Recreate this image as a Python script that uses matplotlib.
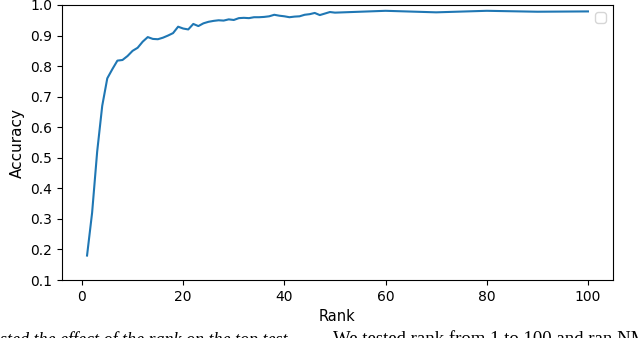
import matplotlib
matplotlib.use("Agg")
import matplotlib.pyplot as plt

ranks = list(range(1, 51)) + [60, 70, 80, 90, 100]
accuracy = [0.180, 0.320, 0.520, 0.670, 0.760, 0.790, 0.818, 0.820, 0.833, 0.850,
            0.860, 0.880, 0.895, 0.889, 0.888, 0.893, 0.900, 0.908, 0.929, 0.923,
            0.920, 0.938, 0.931, 0.940, 0.945, 0.948, 0.950, 0.949, 0.953, 0.951,
            0.957, 0.958, 0.957, 0.960, 0.960, 0.961, 0.963, 0.968, 0.965, 0.963,
            0.960, 0.962, 0.963, 0.968, 0.970, 0.974, 0.967, 0.972, 0.977, 0.975,
            0.981, 0.976, 0.981, 0.978, 0.979]

caption_left = "sted the effect of the rank on the top test"
caption_right = "We tested rank from 1 to 100 and ran NMF"

fig = plt.figure(figsize=(6.4, 3.38), dpi=100)
ax = fig.add_axes([62/640, 1-280/338, (613-62)/640, (280-5)/338])
ax.plot(ranks, accuracy, color="#1f77b4", linewidth=1.5)
ax.set_ylim(0.1, 1.0)
ax.set_xlabel("Rank", fontsize=10.5)
ax.set_ylabel("Accuracy", fontsize=11)
ax.legend(loc="upper right")

fig.text(0.0, 1-331/338, caption_left, va="top", ha="left",
         family="Liberation Serif", style="italic", fontsize=13)
fig.text(333/640, 1-331/338, caption_right, va="top", ha="left",
         family="Liberation Serif", fontsize=13.5)

fig.savefig("out.png", dpi=100)
